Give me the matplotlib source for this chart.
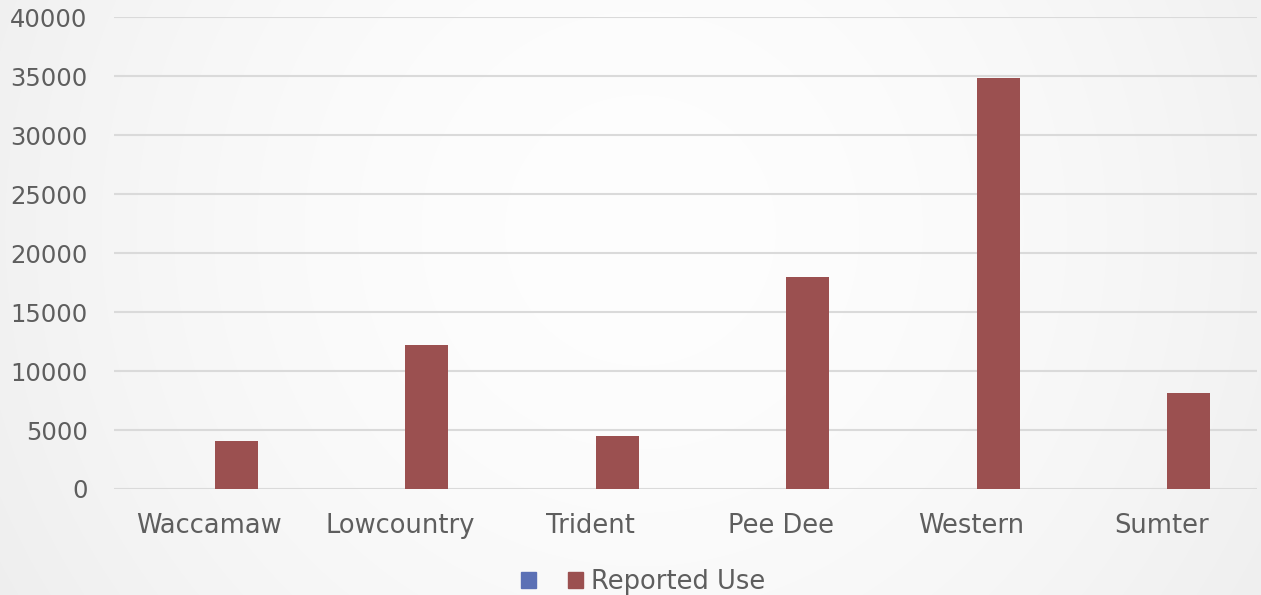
import numpy as np
import matplotlib
matplotlib.use("Agg")
import matplotlib.pyplot as plt
from matplotlib.patches import Rectangle

categories = ["Waccamaw", "Lowcountry", "Trident", "Pee Dee", "Western", "Sumter"]
series1_label = ""
series1_values = [0, 0, 0, 0, 0, 0]
series2_label = "Reported Use"
series2_values = [4100, 12200, 4500, 18000, 34850, 8150]
yticks = [0, 5000, 10000, 15000, 20000, 25000, 30000, 35000, 40000]

plt.rcParams["font.family"] = ["DejaVu Sans"]

W, H = 1261, 595
fig = plt.figure(figsize=(W / 100, H / 100), dpi=100)

# radial gradient background
bg = fig.add_axes([0, 0, 1, 1], zorder=-10)
yy, xx = np.mgrid[0:H, 0:W]
cx, cy = 640, 230
r = np.sqrt((xx - cx) ** 2 + (yy - cy) ** 2)
r = r / r.max()
val = 0.995 - 0.06 * np.clip(r, 0, 1) ** 1.8
bg.imshow(np.dstack([val, val, val]), aspect="auto", extent=[0, 1, 0, 1])
bg.axis("off")

ax = fig.add_axes([114 / W, 1 - 489 / H, (1257 - 114) / W, (489 - 17.3) / H])
ax.patch.set_alpha(0)

x = np.arange(len(categories))
bw = 0.224
off = 0.142
ax.bar(x - off, series1_values, bw, color="#5B70B5", label=series1_label, zorder=3)
ax.bar(x + off, series2_values, bw, color="#9B5050", label=series2_label, zorder=3)

ax.set_xlim(-0.5, len(categories) - 0.5)
ax.set_ylim(0, 40000)
ax.set_yticks(yticks)
ax.set_yticklabels([str(t) for t in yticks])
ax.set_xticks(x)
ax.set_xticklabels(categories)
ax.grid(axis="y", color="#DADADA", linewidth=1.5, zorder=0)
ax.set_axisbelow(True)
for s in ax.spines.values():
    s.set_visible(False)
ax.tick_params(axis="both", length=0, colors="#5E5E5E")
ax.tick_params(axis="y", pad=19, labelsize=17.5)
ax.tick_params(axis="x", pad=17, labelsize=18.5)

handles = [Rectangle((0, 0), 1, 1, color="#5B70B5"), Rectangle((0, 0), 1, 1, color="#9B5050")]
leg = fig.legend(handles, [series1_label, series2_label], loc="center",
                 bbox_to_anchor=(643 / W, 1 - 582 / H), ncol=2, frameon=False,
                 fontsize=18.5, handlelength=0.6, handleheight=0.6,
                 handletextpad=0.3, columnspacing=0.95, labelcolor="#5E5E5E")

fig.savefig("out.png", dpi=100)
